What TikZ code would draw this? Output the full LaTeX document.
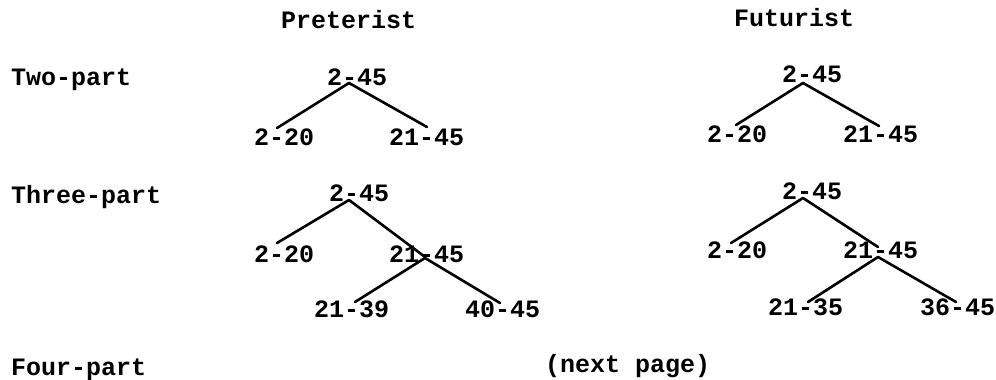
\documentclass[tikz,border=0pt]{standalone}
\usepackage{fontspec}
\setmonofont{Liberation Mono}
\usetikzlibrary{calc}
\newfontfamily\typewr{Liberation Mono}
\tikzset{
  lbl/.style={inner sep=0pt, anchor=base west, font=\typewr\bfseries\fontsize{25}{28}\selectfont},
  edge/.style={line width=2.6pt, line cap=round}
}
\begin{document}
\begin{tikzpicture}[x=1pt, y=-1pt]
\useasboundingbox (0,0) rectangle (996,380);

% column and row headings
\node[lbl] (hpre) at (281,28) {Preterist};
\node[lbl] (hfut) at (734,27) {Futurist};
\node[lbl] (two)   at (11,85)  {Two-part};
\node[lbl] (three) at (11,203) {Three-part};
\node[lbl] (four)  at (11,375) {Four-part};
\node[lbl] (next)  at (545,372) {(next page)};

% Preterist, two-part
\node[lbl] (pa)  at (327,85)  {2-45};
\node[lbl] (pa1) at (254,145) {2-20};
\node[lbl] (pa2) at (389,145) {21-45};
\draw[edge] ($(pa.base west)+(22,-2)$) -- ($(pa1.base west)+(23,-17)$);
\draw[edge] ($(pa.base west)+(22,-2)$) -- ($(pa2.base west)+(38,-18)$);

% Futurist, two-part
\node[lbl] (fa)  at (782,82)  {2-45};
\node[lbl] (fa1) at (707,142) {2-20};
\node[lbl] (fa2) at (843,142) {21-45};
\draw[edge] ($(fa.base west)+(21,1)$) -- ($(fa1.base west)+(29,-17)$);
\draw[edge] ($(fa.base west)+(21,1)$) -- ($(fa2.base west)+(36,-16)$);

% Preterist, three-part
\node[lbl] (pb)   at (329,201) {2-45};
\node[lbl] (pb1)  at (254,262) {2-20};
\node[lbl] (pb2)  at (389,262) {21-45};
\node[lbl] (pb21) at (314,317) {21-39};
\node[lbl] (pb22) at (465,317) {40-45};
\draw[edge] ($(pb.base west)+(20,-1)$) -- ($(pb1.base west)+(23,-19)$);
\draw[edge] ($(pb.base west)+(20,-1)$) -- ($(pb2.base west)+(36,-5)$);
\draw[edge] ($(pb2.base west)+(36,-4)$) -- ($(pb21.base west)+(41,-15)$);
\draw[edge] ($(pb2.base west)+(36,-4)$) -- ($(pb22.base west)+(35,-14)$);

% Futurist, three-part
\node[lbl] (fb)   at (782,199) {2-45};
\node[lbl] (fb1)  at (707,258) {2-20};
\node[lbl] (fb2)  at (843,258) {21-45};
\node[lbl] (fb21) at (768,315) {21-35};
\node[lbl] (fb22) at (920,315) {36-45};
\draw[edge] ($(fb.base west)+(21,-1)$) -- ($(fb1.base west)+(24,-15)$);
\draw[edge] ($(fb.base west)+(21,-1)$) -- ($(fb2.base west)+(35,-11)$);
\draw[edge] ($(fb2.base west)+(35,-1)$) -- ($(fb21.base west)+(40,-13)$);
\draw[edge] ($(fb2.base west)+(35,-1)$) -- ($(fb22.base west)+(36,-13)$);
\end{tikzpicture}
\end{document}
